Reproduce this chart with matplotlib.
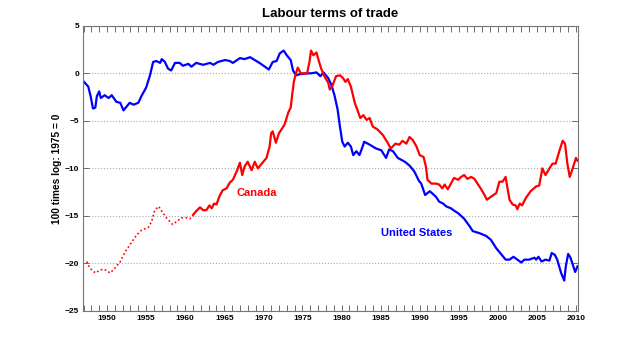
import matplotlib
matplotlib.use('Agg')
import matplotlib.pyplot as plt
from matplotlib.ticker import MultipleLocator

plt.rcParams['font.family'] = ['Liberation Sans', 'DejaVu Sans']

# United States
us_year = [1947.06, 1947.6, 1947.9, 1948.2, 1948.5, 1948.7, 1949.0, 1949.2, 1949.7, 1950.2,
           1950.6, 1951.2, 1951.7, 1952.1, 1952.5, 1952.9, 1953.4, 1954.0, 1954.4, 1955.0,
           1955.5, 1955.9, 1956.3, 1956.8, 1957.0, 1957.4, 1957.8, 1958.2, 1958.7, 1959.3,
           1959.7, 1960.4, 1960.8, 1961.4, 1962.3, 1963.2, 1963.6, 1964.2, 1965.1, 1965.7,
           1966.1, 1967.0, 1967.6, 1968.3, 1968.9, 1969.5, 1970.2, 1970.7, 1971.2, 1971.7,
           1972.1, 1972.6, 1973.0, 1973.5, 1973.8, 1974.2, 1974.6, 1975.5, 1976.1, 1976.8,
           1977.3, 1977.7, 1978.3, 1978.7, 1979.1, 1979.5, 1979.8, 1980.1, 1980.4, 1980.8,
           1981.2, 1981.5, 1981.9, 1982.3, 1982.7, 1982.9, 1983.6, 1984.4, 1985.1, 1985.7,
           1986.1, 1986.6, 1987.2, 1988.1, 1988.7, 1989.3, 1989.9, 1990.2, 1990.7, 1991.3,
           1992.1, 1992.5, 1993.0, 1993.4, 1994.0, 1994.5, 1994.9, 1995.3, 1995.7, 1996.4,
           1996.8, 1997.6, 1998.5, 1999.1, 1999.8, 2000.4, 2001.0, 2001.5, 2002.0, 2002.5,
           2003.0, 2003.4, 2004.0, 2004.7, 2004.9, 2005.2, 2005.6, 2006.1, 2006.6, 2006.9,
           2007.3, 2007.6, 2008.1, 2008.5, 2008.7, 2009.0, 2009.3, 2009.9, 2010.2]
us_val = [-0.9, -1.4, -2.4, -3.7, -3.6, -2.4, -1.9, -2.6, -2.3, -2.6,
          -2.3, -3.0, -3.1, -3.9, -3.5, -3.1, -3.3, -3.1, -2.4, -1.5,
          -0.2, 1.2, 1.3, 1.1, 1.5, 1.2, 0.5, 0.3, 1.1, 1.1,
          0.8, 1.0, 0.7, 1.1, 0.9, 1.1, 0.9, 1.2, 1.4, 1.3,
          1.1, 1.6, 1.5, 1.7, 1.4, 1.1, 0.7, 0.4, 1.2, 1.3,
          2.1, 2.4, 1.9, 1.4, 0.3, -0.2, -0.1, 0.0, 0.0, 0.1,
          -0.3, 0.1, -0.5, -1.2, -2.3, -3.8, -5.6, -7.2, -7.7, -7.3,
          -7.7, -8.6, -8.2, -8.6, -7.7, -7.2, -7.5, -7.9, -8.1, -8.9,
          -8.0, -8.2, -8.9, -9.3, -9.7, -10.3, -11.3, -11.6, -12.8, -12.4,
          -13.0, -13.5, -13.7, -14.0, -14.2, -14.5, -14.7, -15.0, -15.3, -16.1,
          -16.6, -16.8, -17.1, -17.5, -18.4, -19.0, -19.6, -19.6, -19.3, -19.6,
          -19.9, -19.6, -19.6, -19.4, -19.6, -19.3, -19.8, -19.6, -19.7, -18.9,
          -19.1, -19.6, -21.0, -21.8, -20.3, -19.0, -19.4, -20.9, -20.3]

# Canada, early estimates (dotted)
ca_early_year = [1947.4, 1947.8, 1948.5, 1949.1, 1949.6, 1950.4, 1951.0, 1951.7, 1952.3, 1953.2,
                 1953.8, 1954.4, 1955.3, 1955.7, 1956.1, 1956.6, 1957.0, 1957.6, 1958.4, 1958.9,
                 1959.5, 1960.2, 1960.6, 1961.0]
ca_early_val = [-19.8, -20.5, -21.0, -20.7, -20.6, -21.0, -20.5, -19.8, -18.8, -17.7,
                -17.0, -16.5, -16.2, -15.6, -14.4, -14.0, -14.5, -15.2, -15.9, -15.6,
                -15.2, -15.2, -15.3, -15.0]

# Canada (solid)
ca_year = [1961.0, 1961.4, 1961.9, 1962.3, 1962.7, 1963.1, 1963.4, 1963.7, 1964.0, 1964.4,
           1964.8, 1965.3, 1965.7, 1966.1, 1966.6, 1967.0, 1967.3, 1967.6, 1968.0, 1968.5,
           1968.9, 1969.3, 1969.8, 1970.4, 1970.8, 1971.0, 1971.2, 1971.6, 1972.0, 1972.4,
           1972.7, 1972.9, 1973.2, 1973.5, 1973.7, 1973.9, 1974.1, 1974.4, 1974.8, 1975.2,
           1975.6, 1975.9, 1976.1, 1976.4, 1976.8, 1977.1, 1977.4, 1977.8, 1978.3, 1978.5,
           1978.8, 1979.3, 1979.8, 1980.2, 1980.5, 1980.8, 1981.2, 1981.7, 1982.1, 1982.4,
           1982.8, 1983.2, 1983.6, 1984.0, 1984.6, 1985.3, 1985.9, 1986.3, 1986.9, 1987.4,
           1987.8, 1988.3, 1988.7, 1989.1, 1989.6, 1990.0, 1990.5, 1990.8, 1991.0, 1991.5,
           1992.1, 1992.5, 1992.9, 1993.2, 1993.6, 1994.0, 1994.4, 1994.9, 1995.3, 1995.7,
           1996.1, 1996.6, 1997.0, 1997.4, 1997.8, 1998.3, 1998.6, 1999.1, 1999.8, 2000.2,
           2000.6, 2001.0, 2001.2, 2001.5, 2001.9, 2002.3, 2002.5, 2002.8, 2003.1, 2003.6,
           2004.2, 2004.9, 2005.3, 2005.7, 2006.1, 2006.6, 2007.0, 2007.4, 2007.9, 2008.3,
           2008.6, 2008.9, 2009.2, 2009.5, 2010.0, 2010.2]
ca_val = [-14.9, -14.5, -14.1, -14.4, -14.4, -13.9, -14.2, -13.7, -13.8, -12.9,
          -12.3, -12.1, -11.5, -11.2, -10.3, -9.4, -10.7, -9.8, -9.3, -10.2,
          -9.3, -10.0, -9.5, -8.9, -7.7, -6.3, -6.1, -7.3, -6.3, -5.8,
          -5.4, -4.9, -4.1, -3.6, -2.2, -0.9, -0.2, 0.6, 0.0, 0.0,
          0.0, 1.2, 2.4, 1.9, 2.2, 1.3, 0.5, -0.3, -1.0, -1.7,
          -1.4, -0.3, -0.2, -0.5, -0.9, -0.6, -1.4, -3.1, -4.0, -4.7,
          -4.4, -4.9, -4.7, -5.6, -5.9, -6.5, -7.3, -7.9, -7.4, -7.5,
          -7.1, -7.4, -6.7, -7.0, -7.7, -8.6, -8.8, -9.8, -11.2, -11.6,
          -11.6, -11.7, -12.1, -11.7, -12.2, -11.6, -11.0, -11.2, -10.9, -10.7,
          -11.1, -10.9, -11.1, -11.6, -12.1, -12.8, -13.3, -13.0, -12.6, -11.4,
          -11.4, -10.9, -11.9, -13.3, -13.8, -13.9, -14.3, -13.7, -13.9, -13.1,
          -12.4, -11.9, -11.8, -10.0, -10.7, -10.0, -9.5, -9.5, -8.1, -7.1,
          -7.4, -9.5, -10.9, -10.2, -8.9, -9.2]

fig = plt.figure(figsize=(6.4, 3.49), dpi=100)
ax = fig.add_axes([0.130, 0.109, 0.773, 0.817])

ax.plot(us_year, us_val, color='#0000ff', lw=1.6)
ax.plot(ca_early_year, ca_early_val, color='#ff0000', lw=1.2, ls=(0, (1, 1.5)))
ax.plot(ca_year, ca_val, color='#ff0000', lw=1.6)

ax.text(1969.2, -12.6, 'Canada', color='#ff0000', fontsize=8, fontweight='bold',
        ha='center', va='center')
ax.text(1989.6, -16.8, 'United States', color='#0000ff', fontsize=8, fontweight='bold',
        ha='center', va='center')

ax.set_xlim(1946.95, 2010.25)
ax.set_ylim(-25, 5)
ax.xaxis.set_minor_locator(MultipleLocator(1))
ax.yaxis.set_major_locator(MultipleLocator(5))
ax.set_xticks(range(1950, 2011, 5))
ax.tick_params(axis='x', which='both', direction='in', top=True, bottom=True,
               length=4, width=0.6, color='#555555', labelsize=6, pad=3)
ax.tick_params(axis='y', which='both', direction='in', left=True, right=True,
               length=4, width=0.6, color='#555555', labelsize=6, pad=3)
for lab in ax.get_xticklabels() + ax.get_yticklabels():
    lab.set_fontweight('bold')
ax.yaxis.grid(True, ls=':', color='#aaaaaa', lw=0.8)
for s in ax.spines.values():
    s.set_color('#777777')
    s.set_linewidth(0.8)

ax.set_title('Labour terms of trade', fontsize=9.5, fontweight='bold', pad=6)
ax.set_ylabel('100 times log: 1975 = 0', fontsize=7.3, fontweight='bold')
ax.yaxis.set_label_coords(-0.042, 0.5)

fig.savefig('out.png', dpi=100)
